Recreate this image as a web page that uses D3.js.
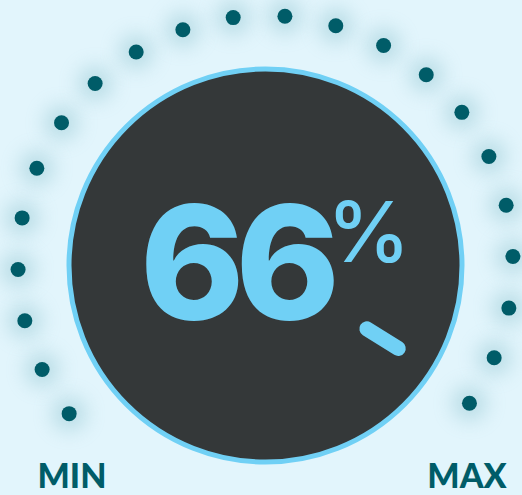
<!DOCTYPE html>
<html>
<head>
<meta charset="utf-8">
<script src="https://cdn.jsdelivr.net/npm/d3@7"></script>
<style>
  html, body { margin: 0; padding: 0; background: #e2f5fc; }
  svg { display: block; }
</style>
</head>
<body>
<svg id="gauge" width="522" height="495"></svg>
<script>
// ----------------------
// data
// ----------------------
const gaugeValue = 66;            // percent shown in the middle
const rangeLabels = ["MIN", "MAX"];
const tickCount = 22;             // dots around the dial
const needleAngleDeg = 122;       // where the knob marker points

// ----------------------
// layout
// ----------------------
const svg = d3.select("#gauge");
const cx = 265.5, cy = 265.5;
const dialR = 196.5;
const ringCy = 263, ringR = 247.5;

const defs = svg.append("defs");
defs.append("filter")
    .attr("id", "glow")
    .attr("x", "-100%").attr("y", "-100%")
    .attr("width", "300%").attr("height", "300%")
  .append("feGaussianBlur")
    .attr("stdDeviation", 10);

// tick dots, index -> angle
const tickAngle = d3.scaleLinear()
    .domain([0, tickCount - 1])
    .range([-127.5, 124.5]);

const ticks = d3.range(tickCount).map(i => {
    const a = tickAngle(i) * Math.PI / 180;
    return { x: cx + ringR * Math.sin(a), y: ringCy - ringR * Math.cos(a) };
});

const dotsG = svg.append("g");
dotsG.selectAll(".glow")
    .data(ticks)
    .enter().append("circle")
    .attr("class", "glow")
    .attr("cx", d => d.x)
    .attr("cy", d => d.y)
    .attr("r", 17)
    .attr("fill", "#6aaebb")
    .attr("opacity", 0.35)
    .attr("filter", "url(#glow)");

dotsG.selectAll(".dot")
    .data(ticks)
    .enter().append("circle")
    .attr("class", "dot")
    .attr("cx", d => d.x)
    .attr("cy", d => d.y)
    .attr("r", 7.5)
    .attr("fill", "#005c68");

// dial
svg.append("circle")
    .attr("cx", cx)
    .attr("cy", cy)
    .attr("r", dialR)
    .attr("fill", "#343839")
    .attr("stroke", "#70d0f5")
    .attr("stroke-width", 5);

// needle marker
const na = needleAngleDeg * Math.PI / 180;
const needle = d3.line()([
    [cx + 119.5 * Math.sin(na), cy - 119.5 * Math.cos(na)],
    [cx + 156.5 * Math.sin(na), cy - 156.5 * Math.cos(na)]
]);
svg.append("path")
    .attr("d", needle)
    .attr("stroke", "#70d0f5")
    .attr("stroke-width", 15)
    .attr("stroke-linecap", "round")
    .attr("fill", "none");

// value text
svg.append("text")
    .attr("x", 140)
    .attr("y", 319)
    .attr("font-family", "Inter, sans-serif")
    .attr("font-weight", 800)
    .attr("font-size", 158)
    .attr("letter-spacing", -9)
    .attr("fill", "#70d0f5")
    .text(String(gaugeValue));

svg.append("text")
    .attr("x", 327)
    .attr("y", 262)
    .attr("font-family", "Inter, sans-serif")
    .attr("font-weight", 500)
    .attr("font-size", 84)
    .attr("fill", "#70d0f5")
    .text("%");

// min / max labels
svg.selectAll(".range-label")
    .data(rangeLabels)
    .enter().append("text")
    .attr("class", "range-label")
    .attr("x", (d, i) => i === 0 ? 72 : 467)
    .attr("y", 488)
    .attr("text-anchor", "middle")
    .attr("font-family", "Lato, sans-serif")
    .attr("font-weight", 900)
    .attr("font-size", 34)
    .attr("fill", "#005c68")
    .text(d => d);
</script>
</body>
</html>
